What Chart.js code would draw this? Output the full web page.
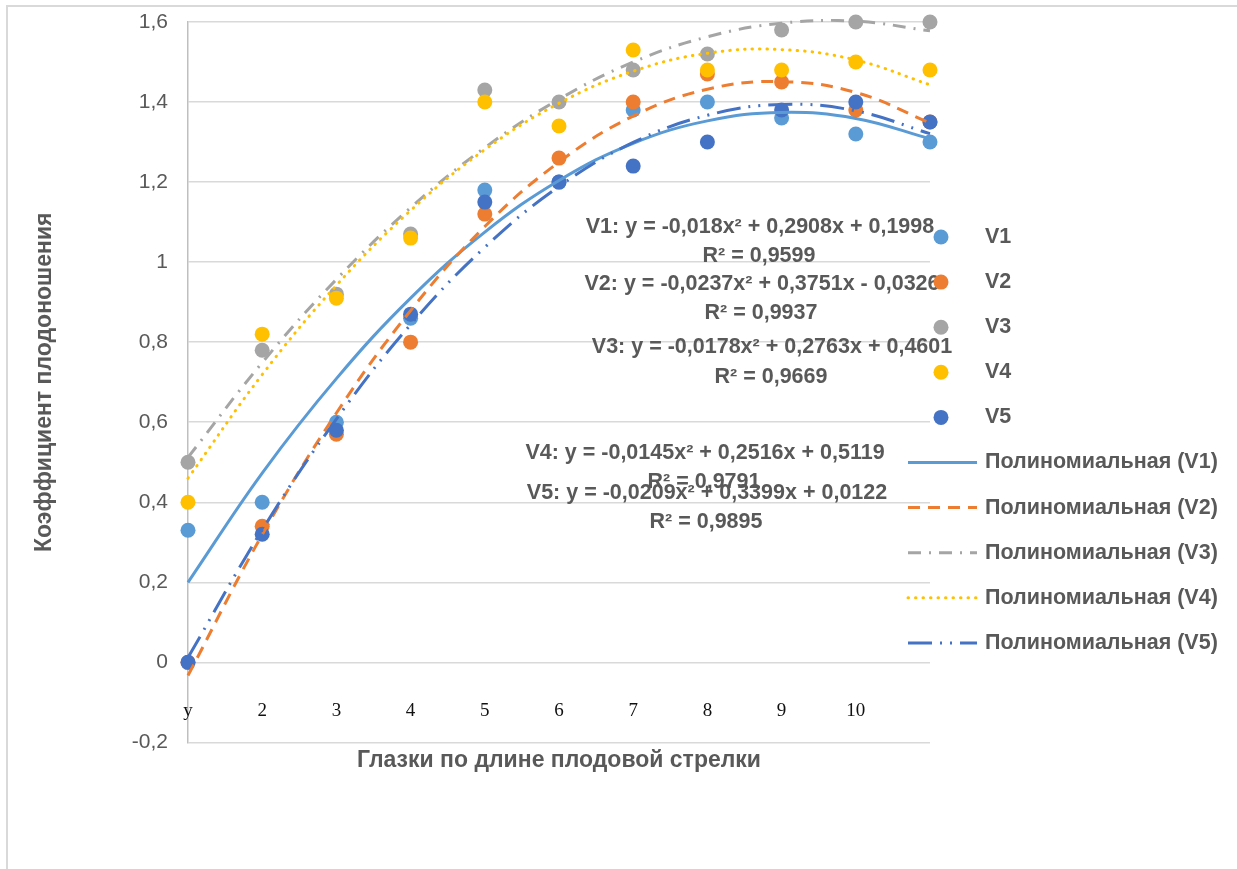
<!DOCTYPE html>
<html>
<head>
<meta charset="utf-8">
<script src="https://cdn.jsdelivr.net/npm/chart.js@4.4.1/dist/chart.umd.min.js"></script>
<style>
  html, body { margin: 0; padding: 0; background: #fff; overflow: hidden; }
  #frame { position: absolute; left: 6px; top: 5px; width: 1400px; height: 1000px; border: 2px solid #d9d9d9; }
  #wrap { position: absolute; left: 0; top: 0; width: 1237px; height: 869px; }
</style>
</head>
<body>
<div id="frame"></div>
<div id="wrap"><canvas id="chart" width="1237" height="869"></canvas></div>
<script>
// category labels under the x axis (last position has no label in the source)
const categories = ['у', '2', '3', '4', '5', '6', '7', '8', '9', '10', ''];
const yTickLabels = ['-0,2', '0', '0,2', '0,4', '0,6', '0,8', '1', '1,2', '1,4', '1,6'];

// measured points
const v1 = [0.33, 0.40, 0.60, 0.86, 1.18, 1.20, 1.38, 1.40, 1.36, 1.32, 1.30];
const v2 = [0.00, 0.34, 0.57, 0.80, 1.12, 1.26, 1.40, 1.47, 1.45, 1.38, 1.35];
const v3 = [0.50, 0.78, 0.92, 1.07, 1.43, 1.40, 1.48, 1.52, 1.58, 1.60, 1.60];
const v4 = [0.40, 0.82, 0.91, 1.06, 1.40, 1.34, 1.53, 1.48, 1.48, 1.50, 1.48];
const v5 = [0.00, 0.32, 0.58, 0.87, 1.15, 1.20, 1.24, 1.30, 1.38, 1.40, 1.35];

// trendline heights read at each category position
const trend1 = [0.20, 0.473, 0.709, 0.910, 1.075, 1.204, 1.297, 1.353, 1.374, 1.359, 1.308];
const trend2 = [-0.033, 0.319, 0.623, 0.879, 1.089, 1.250, 1.365, 1.432, 1.451, 1.424, 1.348];
const trend3 = [0.512, 0.749, 0.957, 1.136, 1.286, 1.407, 1.500, 1.563, 1.597, 1.602, 1.578];
const trend4 = [0.460, 0.719, 0.942, 1.129, 1.281, 1.397, 1.477, 1.522, 1.531, 1.505, 1.443];
const trend5 = [0.012, 0.331, 0.608, 0.844, 1.037, 1.189, 1.299, 1.367, 1.394, 1.378, 1.321];

const equations = [
  'V1: y = -0,018x² + 0,2908x + 0,1998',
  'V2: y = -0,0237x² + 0,3751x - 0,0326',
  'V3: y = -0,0178x² + 0,2763x + 0,4601',
  'V4: y = -0,0145x² + 0,2516x + 0,5119',
  'V5: y = -0,0209x² + 0,3399x + 0,0122'
];
const rSquared = ['R² = 0,9599', 'R² = 0,9937', 'R² = 0,9669', 'R² = 0,9791', 'R² = 0,9895'];

const colors = ['#5B9BD5', '#ED7D31', '#A5A5A5', '#FFC000', '#4472C4'];
const TEXT = '#595959';
const SANS = '"Liberation Sans", Arial, sans-serif';

const toXY = arr => arr.map((y, i) => ({ x: i, y: y }));

const pointSets = [v1, v2, v3, v4, v5].map((arr, i) => ({
  label: 'V' + (i + 1),
  data: toXY(arr),
  showLine: false,
  backgroundColor: colors[i],
  borderWidth: 0,
  pointRadius: 7.5,
  clip: false,
  order: 20 - i
}));

const dashes = [[], [12, 8], [13, 8, 2, 8], [0.5, 7], [24, 8, 2, 8, 2, 8]];
const trendSets = [trend1, trend2, trend3, trend4, trend5].map((arr, i) => ({
  label: 'Полиномиальная (V' + (i + 1) + ')',
  data: toXY(arr),
  showLine: true,
  borderColor: colors[i],
  borderWidth: 3,
  borderDash: dashes[i],
  borderCapStyle: i === 3 ? 'round' : 'butt',
  tension: 0.4,
  pointRadius: 0,
  fill: false,
  clip: 3,
  order: 10 - i
}));

// equation labels + x category labels + legend, Excel style
const extras = {
  id: 'extras',
  afterDraw(chart) {
    const ctx = chart.ctx;
    const xs = chart.scales.x, ys = chart.scales.y;
    ctx.save();

    // category labels sit between 0 and -0.2
    ctx.font = '19px "Liberation Serif", "Times New Roman", serif';
    ctx.fillStyle = '#111';
    ctx.textAlign = 'center';
    ctx.textBaseline = 'middle';
    categories.forEach((c, i) => {
      ctx.fillText(c, xs.getPixelForValue(i), ys.getPixelForValue(-0.122));
    });

    // trendline equations
    const eqPos = [[760, 227, 256], [762, 284, 313], [772, 347, 377], [705, 453, 482], [707, 493, 522]];
    ctx.font = 'bold 21.5px ' + SANS;
    ctx.fillStyle = TEXT;
    equations.forEach((eq, i) => {
      const p = eqPos[i];
      ctx.fillText(eq, p[0], p[1]);
      ctx.fillText(rSquared[i], p[0] - 1, p[2]);
    });

    // legend
    const rowY = 237, rowH = 45.1;
    ctx.textAlign = 'left';
    chart.data.datasets.forEach((ds, i) => {
      const y = rowY + i * rowH;
      if (!ds.showLine) {
        ctx.beginPath();
        ctx.arc(941, y, 7.5, 0, Math.PI * 2);
        ctx.fillStyle = ds.backgroundColor;
        ctx.fill();
      } else {
        ctx.beginPath();
        ctx.setLineDash(ds.borderDash);
        ctx.lineCap = ds.borderCapStyle;
        ctx.lineWidth = ds.borderWidth;
        ctx.strokeStyle = ds.borderColor;
        ctx.moveTo(908, y);
        ctx.lineTo(977, y);
        ctx.stroke();
        ctx.setLineDash([]);
      }
      ctx.fillStyle = TEXT;
      ctx.fillText(ds.label, 985, y);
    });
    ctx.restore();
  }
};

new Chart(document.getElementById('chart'), {
  type: 'scatter',
  data: { datasets: pointSets.concat(trendSets) },
  options: {
    responsive: false,
    animation: false,
    events: [],
    layout: { padding: { left: 0, right: 307, top: 22, bottom: 0 } },
    plugins: { legend: { display: false }, tooltip: { enabled: false } },
    scales: {
      x: {
        type: 'linear',
        min: 0,
        max: 10,
        grid: { display: false, drawTicks: false },
        border: { display: false },
        ticks: { display: false },
        title: {
          display: true,
          text: 'Глазки по длине плодовой стрелки',
          color: TEXT,
          font: { family: SANS, size: 23, weight: 'bold' },
          padding: { top: 4, bottom: 95 }
        }
      },
      y: {
        min: -0.2,
        max: 1.6,
        afterFit(scale) { scale.width = 188; },
        // invisible tick marks give the gap between labels and the axis
        grid: { color: '#d9d9d9', lineWidth: 1.5, drawTicks: true, tickLength: 20, tickColor: 'rgba(0,0,0,0)' },
        border: { display: true, color: '#bfbfbf', width: 1.5 },
        ticks: {
          stepSize: 0.2,
          padding: 0,
          color: TEXT,
          font: { family: SANS, size: 21 },
          callback: (v, i) => yTickLabels[i]
        },
        title: {
          display: true,
          text: 'Коэффициент плодоношения',
          color: TEXT,
          font: { family: SANS, size: 23, weight: 'bold' },
          padding: { top: 31, bottom: 0 }
        }
      }
    }
  },
  plugins: [extras]
});
</script>
</body>
</html>
